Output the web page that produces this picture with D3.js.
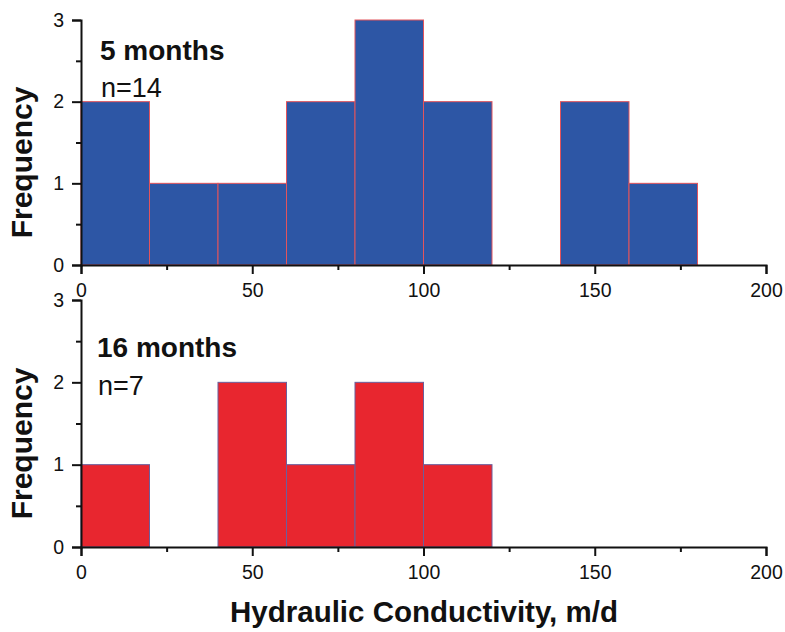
<!DOCTYPE html>
<meta charset="utf-8">
<style>
  body { margin: 0; background: #fff; }
  text { font-family: "Liberation Sans", Arial, sans-serif; fill: #111; }
</style>
<svg width="785" height="632"></svg>

<script src="https://d3js.org/d3.v7.min.js"></script>
<script>
// bin edges (m/d) and counts per bin
var binStarts = [0, 20, 40, 60, 80, 100, 120, 140, 160, 180]
var binWidth = 20
var counts5 = [2, 1, 1, 2, 3, 2, 0, 2, 1, 0]
var counts16 = [1, 0, 2, 1, 2, 1, 0, 0, 0, 0]
var xTicks = [0, 50, 100, 150, 200]
var xMinor = [25, 75, 125, 175]
var yTicks = [0, 1, 2, 3]
var yMinor = [0.5, 1.5, 2.5]

var svg = d3.select('svg')

var x = d3.scaleLinear().domain([0, 200]).range([81, 766])

var panels = [
  { counts: counts5, top: 20, bottom: 265, fill: '#2d56a5', stroke: '#e2545c',
    title: '5 months', n: 'n=14', labelX: 100, titleY: 60, nY: 97 },
  { counts: counts16, top: 300, bottom: 547, fill: '#e8262f', stroke: '#6b5f9c',
    title: '16 months', n: 'n=7', labelX: 97, titleY: 357, nY: 395 }
]

panels.forEach(function (p) {
  var y = d3.scaleLinear().domain([0, 3]).range([p.bottom, p.top])
  var g = svg.append('g')

  // bars
  g.selectAll('rect')
    .data(binStarts.map(function (s, i) { return { x0: s, c: p.counts[i] } })
      .filter(function (d) { return d.c > 0 }))
    .enter().append('rect')
      .attr('x', function (d) { return x(d.x0) })
      .attr('y', function (d) { return y(d.c) })
      .attr('width', function (d) { return x(d.x0 + binWidth) - x(d.x0) })
      .attr('height', function (d) { return y(0) - y(d.c) })
      .attr('fill', p.fill)
      .attr('stroke', p.stroke)
      .attr('stroke-width', 1)

  // x axis
  var xa = g.append('g').attr('transform', 'translate(0,' + p.bottom + ')')
    .call(d3.axisBottom(x).tickValues(xTicks).tickSize(9).tickPadding(9))
  var xm = g.append('g').attr('transform', 'translate(0,' + p.bottom + ')')
    .call(d3.axisBottom(x).tickValues(xMinor).tickSize(5).tickFormat(''))
  xm.select('.domain').remove()

  // y axis
  var ya = g.append('g').attr('transform', 'translate(' + x(0) + ',0)')
    .call(d3.axisLeft(y).tickValues(yTicks).tickSize(9).tickPadding(8).tickFormat(d3.format('d')))
  var ym = g.append('g').attr('transform', 'translate(' + x(0) + ',0)')
    .call(d3.axisLeft(y).tickValues(yMinor).tickSize(5).tickFormat(''))
  ym.select('.domain').remove()

  g.selectAll('.domain').attr('stroke', '#111').attr('stroke-width', 2)
  g.selectAll('.tick line').attr('stroke', '#111').attr('stroke-width', 2)
  xa.selectAll('text').attr('font-size', 19.5).attr('fill', '#111')
  ya.selectAll('text').attr('font-size', 19.5).attr('fill', '#111')

  // labels
  g.append('text').attr('x', p.labelX).attr('y', p.titleY)
    .attr('font-size', 28).attr('font-weight', 'bold').text(p.title)
  g.append('text').attr('x', p.labelX + 1).attr('y', p.nY)
    .attr('font-size', 27).text(p.n)
  g.append('text')
    .attr('transform', 'translate(32,' + ((p.top + p.bottom) / 2 + 20) + ') rotate(-90)')
    .attr('text-anchor', 'middle')
    .attr('font-size', 30).attr('font-weight', 'bold').text('Frequency')
})

svg.append('text').attr('x', 424).attr('y', 622)
  .attr('text-anchor', 'middle')
  .attr('font-size', 29.5).attr('font-weight', 'bold')
  .text('Hydraulic Conductivity, m/d')
</script>
